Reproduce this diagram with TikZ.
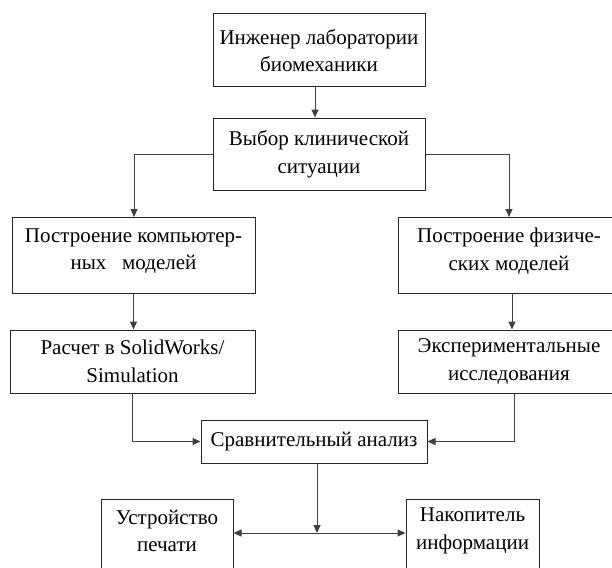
\documentclass[tikz,border=0pt]{standalone}
\usepackage{fontspec}
\setmainfont{Liberation Serif}
\usetikzlibrary{arrows.meta}
\begin{document}
\begin{tikzpicture}[x=1pt,y=-1pt,
  box/.style={draw=black!85, line width=1pt, inner sep=0pt, align=center,
    font=\fontsize{21}{27.5}\selectfont},
  txt/.style={inner sep=0pt, align=center, font=\fontsize{21}{27.5}\selectfont},
  arr/.style={draw=black!75, line width=1pt, -{Triangle[length=8pt,width=7pt]}}]
\useasboundingbox (0,0) rectangle (612,567);
\clip (0,0) rectangle (612,567);
\node[box, minimum width=212, minimum height=73] (b1) at (319,50.5) {Инженер лаборатории\\биомеханики};
\node[box, minimum width=212, minimum height=72] (b2) at (319,154) {Выбор клинической\\ситуации};
\node[box, minimum width=243, minimum height=76] (b3) at (133.5,255.5) {};
\node[txt] (t3) at (133.5,251) {Построение компьютер-\\ных\ \ \ моделей};
\node[box, minimum width=222, minimum height=76] (b4) at (509,255.5) {};
\node[txt] (t4) at (509,251) {Построение физиче-\\ских моделей};
\node[box, minimum width=245, minimum height=63] (b5) at (132.5,361.5) {Расчет в SolidWorks/\\Simulation};
\node[box, minimum width=222, minimum height=63] (b6) at (509,361.5) {Экспериментальные\\исследования};
\node[box, minimum width=226, minimum height=43] (b7) at (314,441.5) {Сравнительный анализ};
\node[box, minimum width=132, minimum height=90, anchor=north] (b8) at (167,499) {};
\node[txt] (t8) at (167,531) {Устройство\\печати};
\node[box, minimum width=133, minimum height=90, anchor=north] (b9) at (472.5,499) {};
\node[txt] (t9) at (472.5,531) {Накопитель\\информации};
\coordinate (j) at (317,533);
\draw[arr] ([xshift=-4pt]b1.south) -- ([xshift=-4pt]b2.north);
\draw[arr] (b2.west) -| ([xshift=0.5pt]b3.north);
\draw[arr] (b2.east) -| (b4.north);
\draw[arr] (b3.south) -- (b5.north -| b3.south);
\draw[arr] ([xshift=3pt]b4.south) -- ([xshift=3pt]b6.north);
\draw[arr] ([xshift=-0.5pt]b5.south) |- (b7.west);
\draw[arr] ([xshift=5pt]b6.south) |- (b7.east);
\draw[arr] ([xshift=3pt]b7.south) -- (j);
\draw[arr] (j) -- (b8.east |- j);
\draw[arr] (j) -- (b9.west |- j);
\end{tikzpicture}
\end{document}
